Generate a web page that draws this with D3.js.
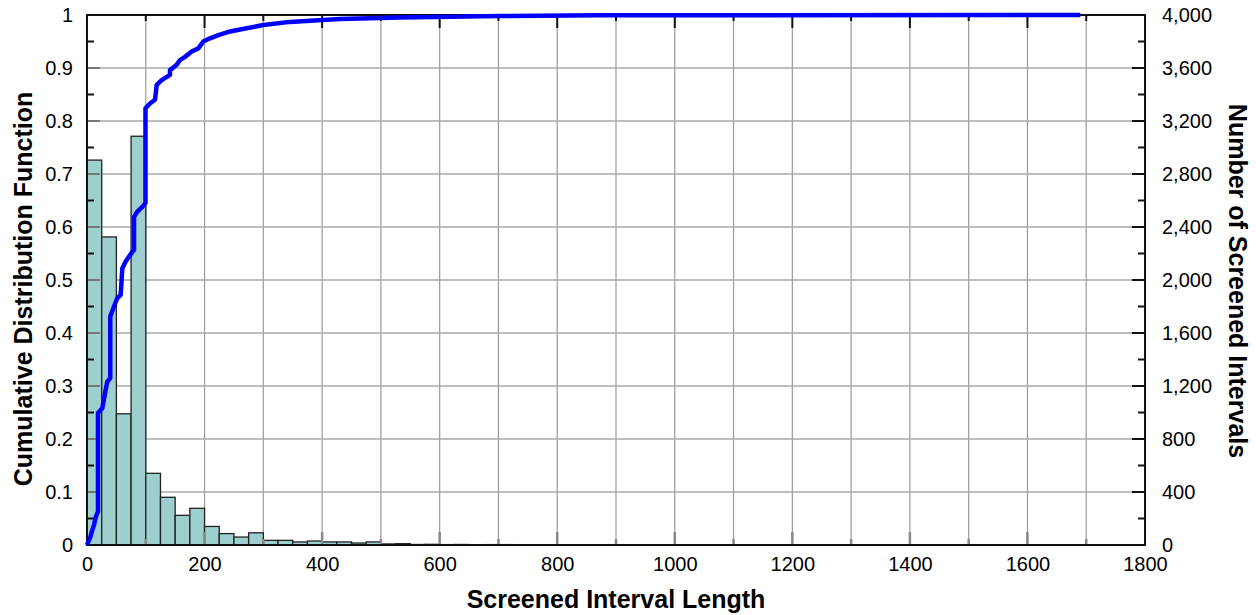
<!DOCTYPE html>
<html><head><meta charset="utf-8">
<script src="https://cdn.jsdelivr.net/npm/d3@7"></script>
<style>body{margin:0;background:#fff}svg{display:block}text{font-family:"Liberation Sans",Arial,sans-serif}</style>
</head><body><svg id="c" width="1256" height="615"></svg>
<script>
const binWidth = 25;
const counts = [2905,2325,990,3085,541,360,224,277,140,86,60,92,35,35,23,30,23,23,15,23,8,10,4,5,3,4,2,3,3,2,1,2,2,1,1,2,1,1,1,0,1,1,0,1,0,0,1,0,0,1,0,0,1,2,0,0,0,0,1,0,0,0,0,0,0,0,0,1];
const cdfX = [0,6,9,12,15,18.7,18.7,26,31.8,34.5,39.6,39.6,45.9,51.6,57.3,60.1,65.8,77.1,80,80,85.6,94.1,99.5,99.5,107.2,115.7,118.6,127.1,141.2,141.2,152.6,158.2,166.7,178.1,189.4,197.9,209.3,223.4,243.3,271.7,300,345,430,532,703,873,1690];
const cdfY = [0,0.016,0.028,0.038,0.053,0.063,0.249,0.258,0.293,0.308,0.315,0.431,0.450,0.466,0.472,0.522,0.535,0.553,0.557,0.619,0.629,0.638,0.645,0.824,0.833,0.840,0.868,0.877,0.887,0.896,0.906,0.915,0.921,0.931,0.937,0.950,0.956,0.962,0.969,0.975,0.981,0.987,0.9925,0.9953,0.998,0.9994,1.0];
const xTicks = [0,200,400,600,800,1000,1200,1400,1600,1800];
const yLeftTicks = [0,0.1,0.2,0.3,0.4,0.5,0.6,0.7,0.8,0.9,1];
const yRightTicks = [0,400,800,1200,1600,2000,2400,2800,3200,3600,4000];

const W=1256,H=615, m={l:87,r:111,t:15,b:70};
const svg=d3.select('#c');
const x=d3.scaleLinear().domain([0,1800]).range([m.l,W-m.r]);
const yL=d3.scaleLinear().domain([0,1]).range([H-m.b,m.t]);
const yR=d3.scaleLinear().domain([0,4000]).range([H-m.b,m.t]);

// grid
const g=svg.append('g');
g.selectAll('.vg').data(d3.range(100,1800,100)).join('line')
 .attr('x1',d=>x(d)).attr('x2',d=>x(d)).attr('y1',m.t).attr('y2',H-m.b)
 .attr('stroke','#9a9a9a').attr('stroke-width',1.2);
g.selectAll('.hg').data(d3.range(1,10).map(i=>i/10)).join('line')
 .attr('x1',m.l).attr('x2',W-m.r).attr('y1',d=>yL(d)).attr('y2',d=>yL(d))
 .attr('stroke','#a8a8a8').attr('stroke-width',1.3);

// bars
svg.append('g').selectAll('rect').data(counts).join('rect')
 .attr('x',(d,i)=>x(i*binWidth)).attr('width',(d,i)=>x((i+1)*binWidth)-x(i*binWidth))
 .attr('y',d=>yR(d)).attr('height',d=>yR(0)-yR(d))
 .attr('fill','#9dcfcf').attr('stroke','#222').attr('stroke-width',1.3);

// ticks inside
const tk=svg.append('g');
d3.range(100,1800,100).forEach(v=>{
  const len = v%200===0?13:6;
  tk.append('line').attr('x1',x(v)).attr('x2',x(v)).attr('y1',H-m.b).attr('y2',H-m.b-len).attr('stroke','#888').attr('stroke-width',2.5);
  tk.append('line').attr('x1',x(v)).attr('x2',x(v)).attr('y1',m.t).attr('y2',m.t+len).attr('stroke','#111').attr('stroke-width',2);
});
d3.range(1,20).forEach(i=>{
  const v=i/20, len = i%2===0?13:7;
  tk.append('line').attr('x1',m.l).attr('x2',m.l+len).attr('y1',yL(v)).attr('y2',yL(v)).attr('stroke',i%2===0?'#777':'#111').attr('stroke-width',2);
});
d3.range(200,4000,200).forEach(v=>{
  const len = v%400===0?13:7;
  tk.append('line').attr('x1',W-m.r).attr('x2',W-m.r-len).attr('y1',yR(v)).attr('y2',yR(v)).attr('stroke','#111').attr('stroke-width',2);
});

// frame
svg.append('rect').attr('x',m.l).attr('y',m.t).attr('width',W-m.l-m.r).attr('height',H-m.t-m.b)
 .attr('fill','none').attr('stroke','#111').attr('stroke-width',2);

// cdf line
const pts=cdfX.map((d,i)=>[d,cdfY[i]]);
svg.append('path').datum(pts).attr('d',d3.line().x(d=>x(d[0])).y(d=>yL(d[1])))
 .attr('fill','none').attr('stroke','#0000ff').attr('stroke-width',4.5).attr('stroke-linejoin','round');

// axes labels
const fs=20;
const xa=d3.axisBottom(x).tickValues(xTicks).tickSize(0).tickPadding(12).tickFormat(d3.format('d'));
const xg=svg.append('g').attr('transform',`translate(0,${H-m.b})`).call(xa);
const yla=d3.axisLeft(yL).tickValues(yLeftTicks).tickSize(0).tickPadding(14).tickFormat(d=>d3.format('')(d));
const ylg=svg.append('g').attr('transform',`translate(${m.l},0)`).call(yla);
const yra=d3.axisRight(yR).tickValues(yRightTicks).tickSize(0).tickPadding(17).tickFormat(d3.format(','));
const yrg=svg.append('g').attr('transform',`translate(${W-m.r},0)`).call(yra);
[xg,ylg,yrg].forEach(a=>{a.select('.domain').remove();a.selectAll('text').attr('font-size',fs).attr('fill','#000').attr('font-family','"Liberation Sans",Arial,sans-serif');});

svg.append('text').attr('x',(m.l+W-m.r)/2).attr('y',608).attr('text-anchor','middle')
 .attr('font-size',25).attr('font-weight','bold').text('Screened Interval Length');
svg.append('text').attr('transform',`translate(32,${(m.t+H-m.b)/2+9}) rotate(-90)`).attr('text-anchor','middle')
 .attr('font-size',25).attr('font-weight','bold').text('Cumulative Distribution Function');
svg.append('text').attr('transform',`translate(1229,${(m.t+H-m.b)/2+1}) rotate(90)`).attr('text-anchor','middle')
 .attr('font-size',25).attr('font-weight','bold').text('Number of Screened Intervals');
</script></body></html>
